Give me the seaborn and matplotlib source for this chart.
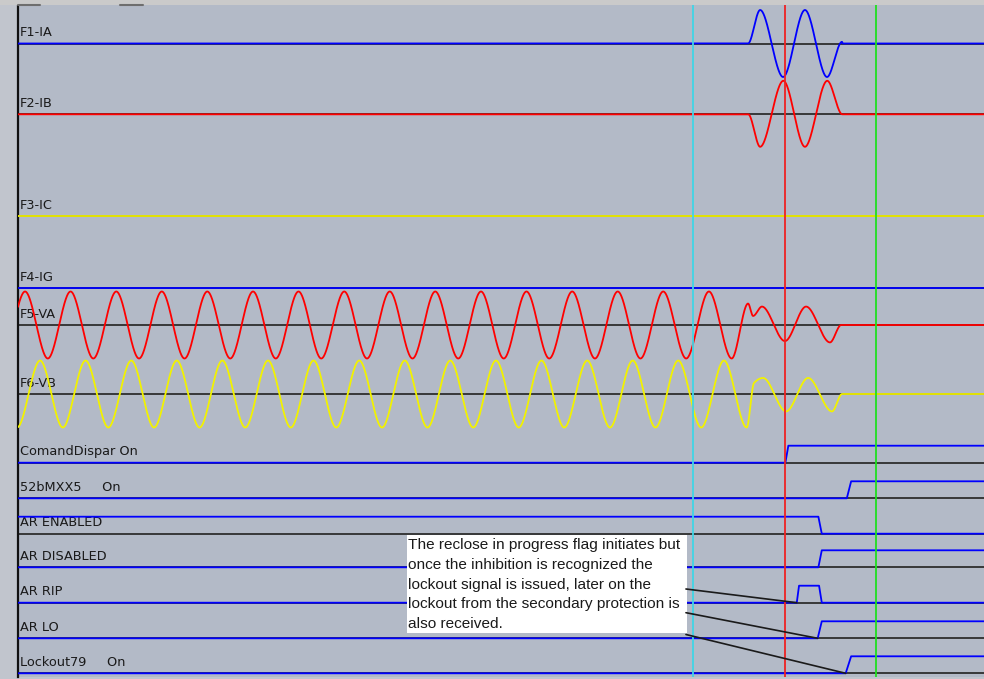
import numpy as np
import pandas as pd
import matplotlib
matplotlib.use("Agg")
import matplotlib.pyplot as plt
import seaborn as sns
from matplotlib.patches import Rectangle
from matplotlib.lines import Line2D

# ---------------- data (time in ms) ----------------
T_END = 424.6

# analog channels
analog_names = ["F1-IA", "F2-IB", "F3-IC", "F4-IG", "F5-VA", "F6-VB"]
analog_colors = ["#0000FF", "#FF0000", "#F2F200", "#0000FF", "#FF0000", "#F2F200"]

ia_t = [0.0, 320.9, 326.2, 336.3, 345.9, 355.6, 362.2, 362.4, T_END]
ia_v = [0.0, 0.0, 1.0, -1.0, 1.0, -1.0, 0.05, 0.0, 0.0]

ib_t = [0.0, 321.0, 326.2, 336.4, 345.9, 355.7, 362.3, T_END]
ib_v = [0.0, 0.0, -0.97, 1.0, -0.97, 1.0, 0.0, 0.0]

ic_t = [0.0, T_END]
ic_v = [0.0, 0.0]

ig_t = [0.0, T_END]
ig_v = [0.0, 0.0]

va_peak_t = [3.1, 23.1, 43.2, 63.2, 83.2, 103.3, 123.3, 143.4, 163.4, 183.4,
             203.5, 223.5, 243.6, 263.6, 283.6, 303.7]
va_trough_t = [-6.9, 13.1, 33.1, 53.2, 73.2, 93.3, 113.3, 133.3, 153.4, 173.4,
               193.5, 213.5, 233.5, 253.6, 273.6, 293.7, 313.7]
va_fault_t = [320.9, 323.1, 327.0, 337.1, 346.4, 356.9, 361.8, T_END]
va_fault_v = [0.64, 0.27, 0.55, -0.48, 0.55, -0.52, 0.0, 0.0]

vb_peak_t = [9.7, 29.7, 49.8, 69.8, 89.8, 109.9, 129.9, 150.0, 170.0, 190.0,
             210.1, 230.1, 250.2, 270.2, 290.2, 310.3]
vb_trough_t = [-0.4, 19.7, 39.7, 59.8, 79.8, 99.9, 119.9, 139.9, 160.0, 180.0,
               200.1, 220.1, 240.1, 260.2, 280.2, 300.3, 320.3]
vb_fault_t = [323.5, 327.5, 337.6, 347.3, 357.8, 362.2, T_END]
vb_fault_v = [0.33, 0.48, -0.52, 0.48, -0.52, 0.0, 0.0]

# digital channels: initial state and (edge start, edge end, new state)
digital_names = ["ComandDispar On", "52bMXX5     On", "AR ENABLED", "AR DISABLED",
                 "AR RIP", "AR LO", "Lockout79     On"]
digital_init = [0, 0, 1, 0, 0, 0, 0]
digital_edges = [
    [(337.3, 338.6, 1)],
    [(364.3, 366.2, 1)],
    [(351.8, 353.3, 0)],
    [(351.8, 353.3, 1)],
    [(342.3, 343.3, 1), (352.1, 353.3, 0)],
    [(351.5, 353.3, 1)],
    [(363.8, 366.2, 1)],
]

# cursors
cursor_t = [296.7, 337.1, 377.1]
cursor_colors = ["#3FD5E6", "#EE2222", "#1FDF1F"]

note_lines = ["The reclose in progress flag initiates but",
              "once the inhibition is recognized the",
              "lockout signal is issued, later on the",
              "lockout from the secondary protection is",
              "also received."]
note_targets = [4, 5, 6]  # digital rows the callout lines point to

# ---------------- layout ----------------
analog_base = [43.5, 114.3, 216.0, 288.0, 325.0, 394.0]
digital_base = [462.7, 498.3, 533.7, 567.3, 602.7, 638.3, 673.3]
A_SCALE = 33.5
D_SCALE = 17.0


def pchip(xk, yk, xq):
    xk = np.asarray(xk, float)
    yk = np.asarray(yk, float)
    h = np.diff(xk)
    delta = np.diff(yk) / h
    n = len(xk)
    d = np.zeros(n)
    for k in range(1, n - 1):
        if delta[k - 1] * delta[k] > 0:
            w1 = 2 * h[k] + h[k - 1]
            w2 = h[k] + 2 * h[k - 1]
            d[k] = (w1 + w2) / (w1 / delta[k - 1] + w2 / delta[k])
    i = np.clip(np.searchsorted(xk, xq) - 1, 0, n - 2)
    s = (xq - xk[i]) / h[i]
    h00 = 2 * s**3 - 3 * s**2 + 1
    h10 = s**3 - 2 * s**2 + s
    h01 = -2 * s**3 + 3 * s**2
    h11 = s**3 - s**2
    return h00 * yk[i] + h10 * h[i] * d[i] + h01 * yk[i + 1] + h11 * h[i] * d[i + 1]


def merge_knots(peaks, troughs, ft, fv):
    pts = [(t, 1.0) for t in peaks] + [(t, -1.0) for t in troughs]
    pts.sort()
    t = [p[0] for p in pts] + list(ft)
    v = [p[1] for p in pts] + list(fv)
    return t, v


va_t, va_v = merge_knots(va_peak_t, va_trough_t, va_fault_t, va_fault_v)
vb_t, vb_v = merge_knots(vb_peak_t, vb_trough_t, vb_fault_t, vb_fault_v)
knots = [(ia_t, ia_v), (ib_t, ib_v), (ic_t, ic_v), (ig_t, ig_v), (va_t, va_v), (vb_t, vb_v)]

tq = np.linspace(0, T_END, 5000)
frames = []
for name, (kt, kv), base in zip(analog_names, knots, analog_base):
    vals = pchip(kt, kv, tq)
    frames.append(pd.DataFrame({"t": tq, "y": base - A_SCALE * vals, "ch": name}))
analog_df = pd.concat(frames, ignore_index=True)

dframes = []
for name, init, edges, base in zip(digital_names, digital_init, digital_edges, digital_base):
    ts, ss = [0.0], [init]
    state = init
    for t0, t1, new in edges:
        ts += [t0, t1]
        ss += [state, new]
        state = new
    ts.append(T_END)
    ss.append(state)
    dframes.append(pd.DataFrame({"t": ts, "y": [base - D_SCALE * s for s in ss], "ch": name}))
digital_df = pd.concat(dframes, ignore_index=True)

# ---------------- drawing ----------------
sns.set_theme(style="white")
plt.rcParams["font.family"] = ["DejaVu Sans"]

fig = plt.figure(figsize=(9.84, 6.79), dpi=100, facecolor="#C1C5CD")
ax = fig.add_axes([18 / 984, 2 / 679, 966 / 984, 672 / 679])
ax.set_facecolor("#B3BAC7")
ax.set_xlim(0, T_END)
ax.set_ylim(677, 5)
ax.set_xticks([])
ax.set_yticks([])
for side in ["top", "right", "bottom"]:
    ax.spines[side].set_visible(False)
ax.spines["left"].set_color("#111111")
ax.spines["left"].set_linewidth(1.6)

# zero / base lines
for b in analog_base + digital_base:
    ax.axhline(b, color="#2E2E2E", lw=1.3, zorder=2)

sns.lineplot(data=analog_df, x="t", y="y", hue="ch", hue_order=analog_names,
             palette=dict(zip(analog_names, analog_colors)), estimator=None,
             sort=False, legend=False, lw=1.3, ax=ax, zorder=3)
sns.lineplot(data=digital_df, x="t", y="y", units="ch", color="#0000FF",
             estimator=None, sort=False, legend=False, lw=1.3, ax=ax, zorder=3)
ax.set_xlabel("")
ax.set_ylabel("")

# labels
for name, b in zip(analog_names + digital_names, analog_base + digital_base):
    ax.text(0.9, b - 11, name, fontsize=9.3, color="#1A1A1A", va="center",
            ha="left", zorder=2.5)

# cursors
for t, c in zip(cursor_t, cursor_colors):
    ax.axvline(t, color=c, lw=1.3, zorder=6)

# note box
box_x0, box_x1 = 171.0, 294.1
ax.add_patch(Rectangle((box_x0, 535), box_x1 - box_x0, 98, facecolor="white",
                       edgecolor="none", zorder=5))
for i, line in enumerate(note_lines):
    ax.text(box_x0 + 0.5, 545 + 19.8 * i, line, fontsize=11.1,
            family=["Liberation Sans", "DejaVu Sans"], color="#1A1A1A",
            va="center", ha="left", zorder=5.5)

starts_y = [589.0, 612.7, 634.5]
for row, sy in zip(note_targets, starts_y):
    ax.annotate("", xy=(digital_edges[row][0][0], digital_base[row]),
                xytext=(293.6, sy),
                arrowprops=dict(arrowstyle="-", color="#1A1A1A", lw=1.2,
                                shrinkA=0, shrinkB=0), zorder=7)

# top window strip
fig.add_artist(Rectangle((0, 1 - 5 / 679), 1, 5 / 679, transform=fig.transFigure,
                         facecolor="#CACACA", edgecolor="none"))
for x0, x1 in [(18, 40), (120, 143)]:
    fig.add_artist(Line2D([x0 / 984, x1 / 984], [1 - 5 / 679, 1 - 5 / 679],
                          transform=fig.transFigure, color="#6E6E6E", lw=1.5))

fig.savefig("out.png", dpi=100, facecolor=fig.get_facecolor())
